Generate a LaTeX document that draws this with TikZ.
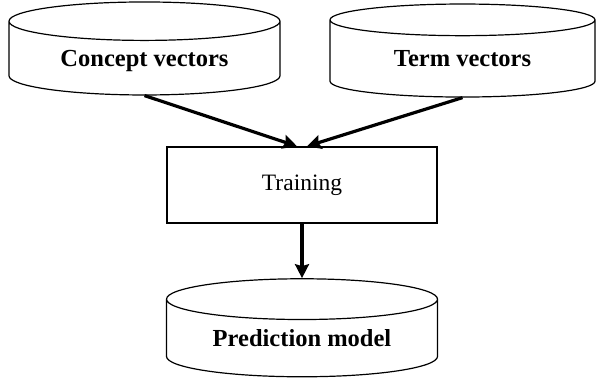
\documentclass[tikz,border=0pt]{standalone}
\usepackage{fontspec}
\setmainfont{Liberation Serif}
\usetikzlibrary{shapes.geometric,arrows.meta}

\tikzset{
  store/.style={cylinder, shape border rotate=90, draw, line width=1.2pt,
    aspect=0.22, minimum width=271pt, minimum height=93pt,
    text height=17pt, text depth=5pt,
    font=\fontsize{24.5}{28}\selectfont\bfseries},
  stepbox/.style={draw, line width=1.5pt, minimum width=270pt, minimum height=76pt,
    font=\fontsize{23.5}{28}\selectfont},
  flow/.style={line width=3.2pt, -{Stealth[length=14pt,width=14pt,inset=2pt]}}
}

\begin{document}
\begin{tikzpicture}[x=1pt, y=-1pt]
        \useasboundingbox (0, 0) rectangle (597, 378);

        \node[store] (concept) at (144.5, 60.5) {Concept vectors};
        \node[store, minimum width=265pt] (term) at (462.5, 60.5) {Term vectors};
        \node[stepbox] (train) at (302, 185) {Training};
        \node[store, minimum height=98pt] (model) at (302, 340.5) {Prediction model};

        \draw[flow] (concept.south) -- ([xshift=-5pt]train.north);
        \draw[flow] (term.south) -- ([xshift=5pt]train.north);
        \draw[flow] (train.south) -- (model.north);
    \end{tikzpicture}
\end{document}
